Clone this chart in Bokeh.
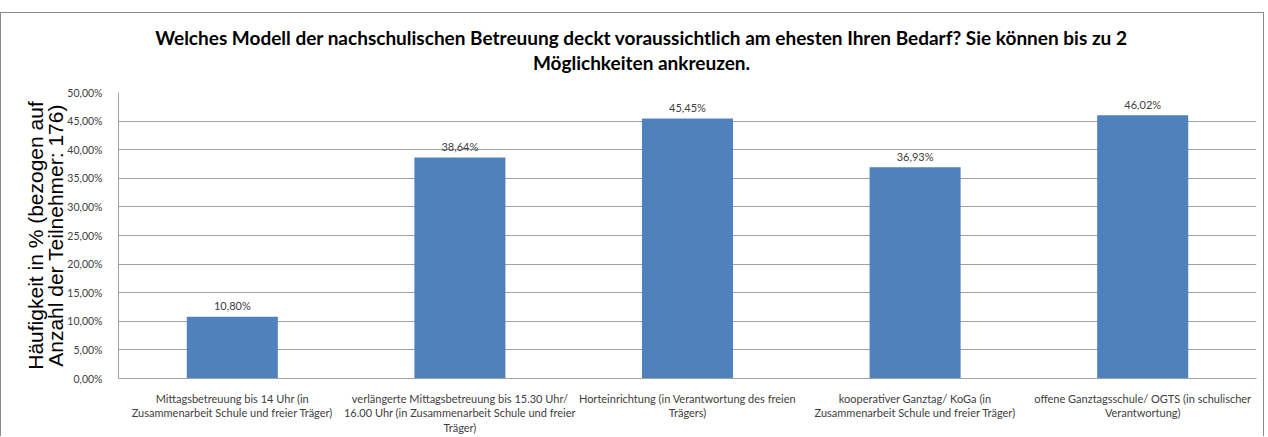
from bokeh.plotting import figure
from bokeh.models import Range1d, LabelSet, ColumnDataSource, FixedTicker, Label
from bokeh.layouts import column
from bokeh.core.properties import value
from bokeh.embed import file_html
from bokeh.resources import INLINE

# ---- data ----
categories = [
    "Mittagsbetreuung bis 14 Uhr (in\nZusammenarbeit Schule und freier Träger)",
    "verlängerte Mittagsbetreuung bis 15.30 Uhr/\n16.00 Uhr (in Zusammenarbeit Schule und freier\nTräger)",
    "Horteinrichtung (in Verantwortung des freien\nTrägers)",
    "kooperativer Ganztag/ KoGa (in\nZusammenarbeit Schule und freier Träger)",
    "offene Ganztagsschule/ OGTS (in schulischer\nVerantwortung)",
]
values = [10.80, 38.64, 45.45, 36.93, 46.02]
y_ticks = [0, 5, 10, 15, 20, 25, 30, 35, 40, 45, 50]
title_lines = [
    "Welches Modell der nachschulischen Betreuung deckt voraussichtlich am ehesten Ihren Bedarf? Sie können bis zu 2",
    "Möglichkeiten ankreuzen.",
]
ylabel_text = "Häufigkeit in % (bezogen auf\nAnzahl der Teilnehmer: 176)"

def de_pct(v):
    return f"{v:.2f}".replace(".", ",") + "%"

W = 1262
TH = 70
BL, BR = 117, 7  # left / right borders of the plotting frame

# ---- title strip (ranges in canvas pixels; frame is aligned with the chart frame) ----
tf = figure(width=W, height=TH, output_backend="svg", toolbar_location=None,
            x_range=Range1d(BL, W - BR), y_range=Range1d(0, TH),
            x_axis_location=None, y_axis_location=None,
            min_border_left=BL, min_border_right=BR, min_border_top=0, min_border_bottom=0)
tf.grid.visible = False
tf.outline_line_color = None
for j, line in enumerate(title_lines):
    tf.add_layout(Label(x=640, y=TH, y_offset=-24 - 25 * j, text=line,
                        text_align="center", text_baseline="middle",
                        text_font="Lato", text_font_style="bold", text_font_size="19px",
                        text_color="black"))

# ---- main chart ----
xs = [i + 0.5 for i in range(len(values))]
src = ColumnDataSource(dict(x=xs, top=values, lab=[de_pct(v) for v in values]))

p = figure(width=W, height=353, output_backend="svg", toolbar_location=None,
           x_range=Range1d(0, len(values)), y_range=Range1d(0, 50),
           min_border_left=BL, min_border_right=BR, min_border_top=9, min_border_bottom=10)
p.outline_line_color = None
p.background_fill_color = "white"
p.border_fill_color = "white"

p.vbar(x="x", top="top", width=0.4, source=src, fill_color="#4f81bd", line_color=None)

p.xaxis.ticker = FixedTicker(ticks=xs)
p.xaxis.major_label_overrides = {x: c for x, c in zip(xs, categories)}
p.xaxis.axis_line_color = "#a0a0a0"
p.xaxis.major_tick_line_color = None
p.xaxis.minor_tick_line_color = None
p.xaxis.major_label_standoff = 7
p.xaxis.major_label_text_font = "Lato"
p.xaxis.major_label_text_font_size = "11px"
p.xaxis.major_label_text_color = "#404040"
p.xaxis.major_label_text_line_height = 1.13
p.xgrid.visible = False

p.yaxis.ticker = FixedTicker(ticks=y_ticks)
p.yaxis.major_label_overrides = {t: de_pct(t) for t in y_ticks}
p.yaxis.axis_line_color = "#a0a0a0"
p.yaxis.major_tick_line_color = None
p.yaxis.minor_tick_line_color = None
p.yaxis.major_label_standoff = 10
p.yaxis.major_label_text_font = "Lato"
p.yaxis.major_label_text_font_size = "10.5px"
p.yaxis.major_label_text_color = "#404040"
p.yaxis.axis_label = ylabel_text
p.yaxis.axis_label_text_font = "Liberation Sans"
p.yaxis.axis_label_text_font_style = "normal"
p.yaxis.axis_label_text_font_size = "21px"
p.yaxis.axis_label_text_color = "black"
p.yaxis.axis_label_text_line_height = 0.9
p.yaxis.axis_label_standoff = -3
p.ygrid.ticker = FixedTicker(ticks=y_ticks)
p.ygrid.grid_line_color = "#a0a0a0"

p.add_layout(LabelSet(x="x", y="top", text="lab", source=src, y_offset=11,
                      text_align="center", text_baseline="middle",
                      text_font=value("Lato"), text_font_size=value("11px"),
                      text_color="#404040"))

layout = column(tf, p, spacing=0)
layout.styles = {"margin-top": "12px",
                 "border-top": "1px solid #8a8a8a", "border-left": "1px solid #8a8a8a",
                 "border-right": "1px solid #8a8a8a"}

open("out.html", "w").write(file_html(layout, INLINE))
